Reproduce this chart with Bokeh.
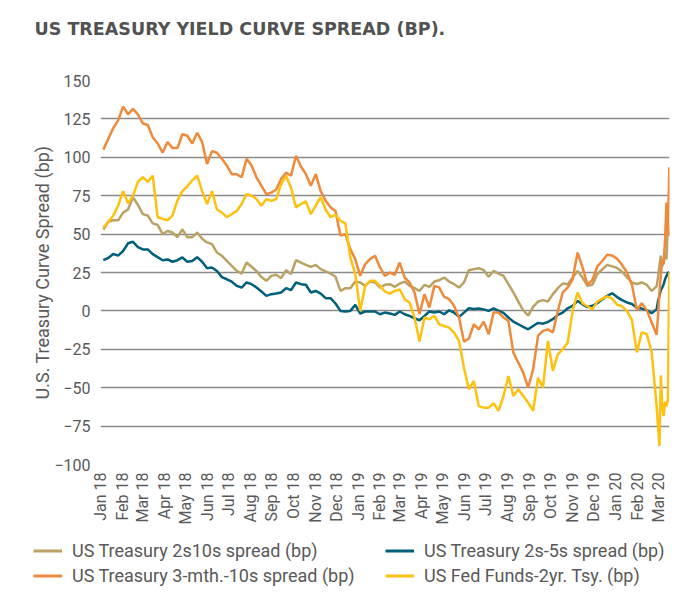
import math
import pandas as pd
from bokeh.plotting import figure
from bokeh.layouts import column
from bokeh.models import (Range1d, DatetimeTickFormatter, MonthsTicker, FixedTicker,
                          Legend, LegendItem, ColumnDataSource, Label)
from bokeh.embed import file_html
from bokeh.resources import INLINE

# ---------------- data ----------------
title_text = "US TREASURY YIELD CURVE SPREAD (BP)."
y_label = "U.S. Treasury Curve Spread (bp)"
series_names = ["US Treasury 2s10s spread (bp)", "US Treasury 2s-5s spread (bp)",
                "US Treasury 3-mth.-10s spread (bp)", "US Fed Funds-2yr. Tsy. (bp)"]
series_colors = ["#b9a263", "#00607a", "#ee8a3a", "#fdc10f"]
y_ticks = [-100, -75, -50, -25, 0, 25, 50, 75, 100, 125, 150]

weekly_dates = list(pd.date_range("2018-01-05", periods=113, freq="7D"))
march_dates = list(pd.to_datetime(["2020-03-01", "2020-03-03", "2020-03-05", "2020-03-07",
                                   "2020-03-09", "2020-03-11", "2020-03-13", "2020-03-15",
                                   "2020-03-17"]))
dates = weekly_dates + march_dates

spread_2s10s = [
    53, 58, 59, 59, 64, 66, 74, 69, 63, 62,
    57, 56, 50, 52, 51, 48, 53, 48, 48, 51,
    47, 44.6, 43.5, 38, 35.9, 32.6, 29.3, 26, 24.3, 31.5,
    28.7, 26, 22, 19.6, 22.8, 23.5, 21.3, 26.5, 24, 33,
    31.5, 30, 28.7, 30, 27.2, 25.7, 24.3, 22.2, 13, 14.8,
    14.8, 19.1, 18.5, 16.3, 19.1, 18.5, 15.2, 17, 17.4, 15.7,
    17.8, 19.1, 16.3, 14.8, 13, 17, 15.7, 19.1, 20, 21.7,
    19.1, 17.4, 15.2, 18.5, 26.5, 27.2, 27.8, 26.5, 22.2, 26,
    24.3, 22.8, 17.4, 12, 6.1, 0.4, -3, 2.6, 6.1, 7,
    6.1, 10.9, 14.8, 17.8, 17.4, 21.7, 26, 21.7, 16.3, 17,
    24, 27, 30, 29, 28, 25.5, 22, 18.5, 17.5, 18.5,
    17, 13, 16,
    21.7, 29.3, 35.9, 29.3, 31.5, 38, 33.7, 56.5, 49,
]
spread_2s5s = [
    33, 34.5, 37, 36, 39, 44, 45, 41.5, 40, 40,
    37, 35, 33, 33.5, 32, 33, 34.8, 32, 32.5, 35,
    32, 27.8, 28.3, 26, 22, 20.6, 19, 16.3, 15.2, 18.5,
    17.4, 15.2, 12.6, 9.8, 10.9, 11.3, 12, 14.8, 13.5, 18.5,
    17.4, 17, 12, 13, 11.3, 8.3, 8.3, 4.8, 0, -0.4,
    0, 3.9, -1.7, -0.4, -0.4, -0.4, -2.2, -1.1, -1.7, -2.6,
    -0.4, -2.2, -3.3, -4.8, -6.1, -3.3, -0.4, -1.1, -0.4, -2.2,
    0.4, -1.1, -3.9, -1.1, 1.7, 1.3, 1.5, 1, 0, 1.7,
    0, -1.3, -4.3, -7, -8.7, -10.4, -12, -9.8, -7.8, -8.3,
    -7.2, -5.4, -2.6, -1.1, 1.7, 3.3, 6.5, 4.3, 2.5, 3.3,
    5, 7.5, 9.8, 11.5, 9, 7, 5.5, 4.5, 2, 1.5,
    0.5, -1.5, 1,
    6.5, 9.8, 13.7, 15.2, 17.4, 20.7, 22.8, 24.6, 25.4,
]
spread_3m10s = [
    105, 112, 119, 124, 133, 128, 131.5, 128, 122, 121,
    113, 109, 103, 110, 106, 106, 115, 114, 109, 116,
    110, 95.6, 104, 103, 99, 94.6, 89, 89, 87, 99,
    94.6, 87, 81.5, 76, 77, 79, 86, 90, 88, 101,
    94, 89, 81.5, 89, 78, 71.7, 67.4, 65, 49, 50,
    40.2, 33.7, 22.8, 30.4, 33.7, 35.9, 28.3, 22.8, 25, 23.5,
    31.5, 21.7, 18.5, 12, -2.2, 10.9, 2.2, 16.3, 15.2, 9.1,
    7.6, 3.3, -4.3, -20, -18, -8.7, -12, -7, -15.2, -1.1,
    -1.1, -4.3, -6.5, -27.2, -33.7, -40.2, -50, -38, -16.3, -13,
    -12, -14.1, 0, 12, 15.2, 20.6, 38, 28.3, 17, 20,
    29, 32.5, 36.5, 36, 34, 30, 25, 17, 0.5, 5,
    0.5, -7.6, -15.5,
    -3, 12, 23, 33.7, 30.4, 46.7, 70.6, 49, 93.5,
]
spread_ff2y = [
    54.3, 58, 62, 68.5, 78, 70, 75, 84, 87, 84,
    88, 61, 60, 59, 62, 72, 78, 81, 85, 88,
    78, 69.6, 78, 66, 64, 61, 63, 65, 69.6, 76,
    75, 72.8, 68.5, 72.8, 71.7, 72.8, 82.6, 88, 80, 67.4,
    69.6, 71.3, 63, 68.5, 74, 66, 61, 62.6, 58.7, 57,
    34.8, 23.9, 0, 16.3, 19.6, 19.6, 16.3, 12.6, 11.3, 13,
    14, 7.6, 5.4, -4.3, -20, -4.3, -5.4, -3.3, -8.7, -9.8,
    -10.9, -14.1, -19.6, -37, -51, -45.7, -62, -63, -63, -60,
    -65, -55.4, -42.4, -55.4, -51, -55.4, -59.8, -65, -43.5, -50,
    -19.6, -39, -28.3, -25, -20.6, 0, 12, 5, 3, 1,
    6, 8, 9.5, 8, 4, 3, 0, -6, -27, -14,
    -15, -27, -62,
    -75, -88, -42, -62, -68.5, -59, -62, -57.6, 25,
]

src = ColumnDataSource(dict(date=dates, s2s10s=spread_2s10s, s2s5s=spread_2s5s,
                            s3m10s=spread_3m10s, sff2y=spread_ff2y))
cols = ["s2s10s", "s2s5s", "s3m10s", "sff2y"]

FONT = "Roboto"
GRAY = "#595959"
W = 690


def bare_figure(height):
    f = figure(width=W, height=height, output_backend="svg", toolbar_location=None, title=None,
               x_range=Range1d(0, 1), y_range=Range1d(0, 1),
               x_axis_location=None, y_axis_location=None,
               min_border_left=0, min_border_right=0, min_border_top=0, min_border_bottom=0)
    f.frame_align = False
    f.outline_line_color = None
    f.xgrid.visible = False
    f.ygrid.visible = False
    return f


# ---------------- header (title) ----------------
hf = bare_figure(46)
hf.add_layout(Label(x=34, y=18, x_units="screen", y_units="screen", text=title_text,
                    text_font="DejaVu Sans", text_font_style="bold", text_font_size="17.5px",
                    text_color="#525252", text_align="left", text_baseline="middle"))

# ---------------- main chart ----------------
p = figure(width=W, height=492, x_axis_type="datetime", output_backend="svg",
           toolbar_location=None, title=None,
           x_range=Range1d(pd.Timestamp("2018-01-01"), pd.Timestamp("2020-03-17 06:00")),
           y_range=Range1d(-100, 150),
           min_border_left=100, min_border_right=21, min_border_top=34, min_border_bottom=74)
p.frame_align = False
p.outline_line_color = None
p.background_fill_color = "white"
p.border_fill_color = "white"

p.yaxis.ticker = FixedTicker(ticks=y_ticks)
p.yaxis.axis_label = y_label
p.yaxis.axis_label_text_font = FONT
p.yaxis.axis_label_text_font_style = "normal"
p.yaxis.axis_label_text_font_size = "18px"
p.yaxis.axis_label_text_color = GRAY
p.yaxis.axis_label_standoff = -2
p.yaxis.major_label_standoff = 10

p.xaxis.ticker = MonthsTicker(months=list(range(12)))
p.xaxis.formatter = DatetimeTickFormatter(months="%b %y", days="%b %y", years="%b %y")
p.xaxis.major_label_orientation = math.pi / 2
p.xaxis.major_label_standoff = 8

for ax in (p.xaxis, p.yaxis):
    ax.axis_line_color = None
    ax.major_tick_line_color = None
    ax.minor_tick_line_color = None
    ax.major_tick_out = 0
    ax.major_tick_in = 0
    ax.major_label_text_font = FONT
    ax.major_label_text_font_size = "16px"
    ax.major_label_text_color = GRAY

p.xgrid.grid_line_color = None
p.ygrid.grid_line_color = "#8a8a8a"
p.ygrid.grid_line_width = 1.6

for col, color in zip(cols, series_colors):
    p.line(x="date", y=col, source=src, line_color=color, line_width=2.5)

# ---------------- legend strip ----------------
lf = bare_figure(60)
# same series drawn far outside this strip's (0..1) ranges: they only feed the legend swatches
swatches = [lf.line(x="date", y=col, source=src, line_color=c, line_width=3)
            for col, c in zip(cols, series_colors)]

legend_left = Legend(items=[LegendItem(label=series_names[0], renderers=[swatches[0]]),
                            LegendItem(label=series_names[2], renderers=[swatches[2]])],
                     location=(33, 12.5))
legend_right = Legend(items=[LegendItem(label=series_names[1], renderers=[swatches[1]]),
                             LegendItem(label=series_names[3], renderers=[swatches[3]])],
                      location=(385, 12.5))
for lg in (legend_left, legend_right):
    lg.orientation = "vertical"
    lg.background_fill_alpha = 0
    lg.border_line_alpha = 0
    lg.padding = 0
    lg.margin = 0
    lg.spacing = 4
    lg.label_height = 21
    lg.glyph_height = 21
    lg.glyph_width = 29
    lg.label_standoff = 10
    lg.label_text_font = FONT
    lg.label_text_font_size = "18px"
    lg.label_text_color = GRAY
    lf.add_layout(lg, "center")

layout = column(hf, p, lf, spacing=0)
open("out.html", "w").write(file_html(layout, INLINE))
